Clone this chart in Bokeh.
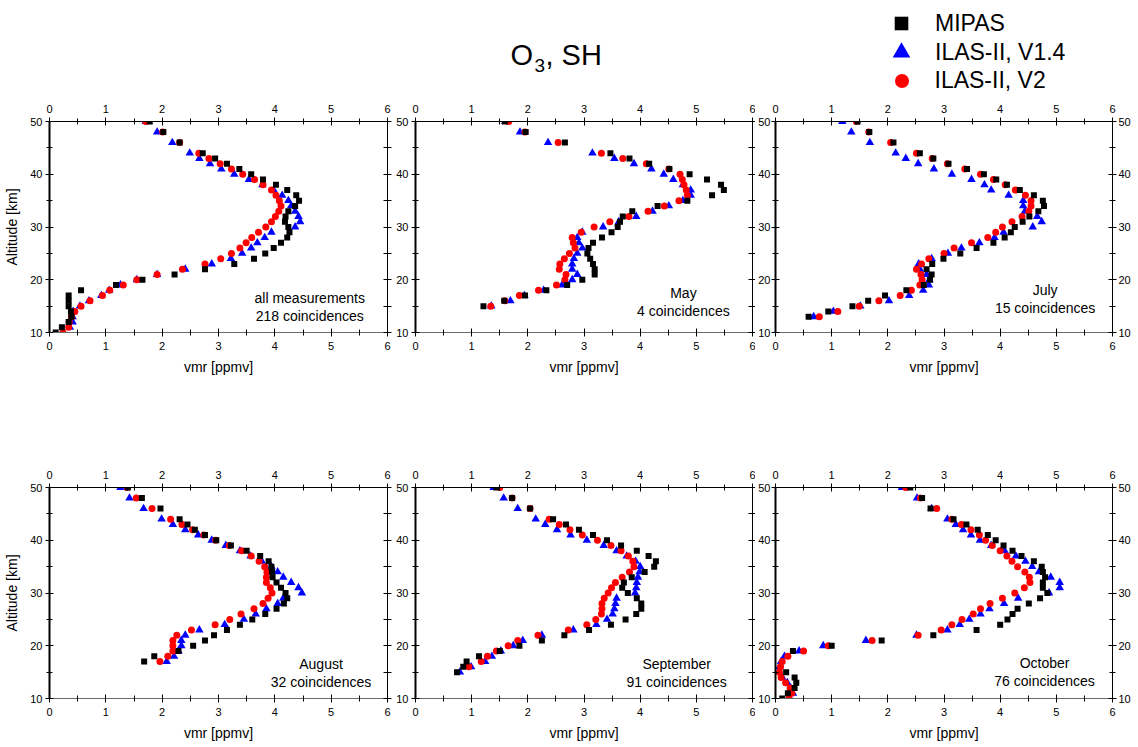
import numpy as np
from bokeh.plotting import figure
from bokeh.models import Range1d, LinearAxis, Label, Legend, LegendItem, FixedTicker
from bokeh.layouts import column, row
from bokeh.embed import file_html
from bokeh.resources import INLINE

FONT = "Liberation Sans"

SERIES = ["MIPAS", "ILAS-II, V1.4", "ILAS-II, V2"]
COLORS = ["black", "#0000FF", "#FF0000"]
MARKERS = ["square", "triangle", "circle"]

X_TICKS = [0, 1, 2, 3, 4, 5, 6]
X_MINOR = [0.5, 1.5, 2.5, 3.5, 4.5, 5.5]
Y_TICKS = [10, 20, 30, 40, 50]
Y_MINOR = [15, 25, 35, 45]

# ---------------- all measurements ----------------
alt_all = [50, 48, 46, 44, 43, 42, 41, 40, 39, 38, 37, 36, 35, 34, 33, 32, 31, 30, 29, 28,
           27, 26, 25, 24, 23, 22, 21, 20, 19, 18, 17, 16, 15, 14, 13, 12, 11, 10]
mipas_all = [1.78, 2.02, 2.31, 2.72, 2.94, 3.15, 3.37, 3.58, 3.79, 4.02, 4.22, 4.38, 4.43, 4.36,
             4.24, 4.19, 4.18, 4.24, 4.26, 4.22, 4.11, 3.98, 3.83, 3.63, 3.28, 2.76, 2.22, 1.65,
             1.18, 0.56, 0.34, 0.34, 0.34, 0.38, 0.39, 0.34, 0.22, 0.11]
ilas14_all = [1.71, 1.91, 2.18, 2.49, 2.66, 2.85, 3.05, 3.28, 3.54, 3.78, 3.98, 4.13, 4.24, 4.29,
              4.36, 4.42, 4.45, 4.36, 3.94, 3.82, 3.69, 3.58, 3.42, 3.22, 2.88, 2.41, 1.91, 1.55,
              1.26, 1.06, 0.92, 0.70, 0.54, 0.42, 0.41, 0.41, 0.36, 0.25]
ilas2_all = [1.71, 2.01, 2.31, 2.65, 2.83, 3.03, 3.23, 3.43, 3.64, 3.79, 3.94, 4.02, 4.08, 4.11,
             4.07, 4.01, 3.94, 3.84, 3.71, 3.59, 3.49, 3.38, 3.23, 3.04, 2.76, 2.36, 1.91, 1.55,
             1.31, 1.07, 0.94, 0.72, 0.56, 0.45, 0.39, 0.35, 0.34, 0.24]

# ---------------- May ----------------
alt_may = [50, 48, 46, 44, 43, 42, 41, 40, 39, 38, 37, 36, 35, 34, 33, 32, 31, 30, 29, 28,
           27, 26, 25, 24, 23, 22, 21, 20, 19, 18, 17, 16, 15]
mipas_may = [1.59, 1.96, 2.66, 3.47, 3.81, 4.16, 4.52, 4.88, 5.19, 5.44, 5.49, 5.28, 4.84, 4.31,
             3.86, 3.69, 3.64, 3.60, 3.49, 3.32, 3.16, 3.08, 3.06, 3.11, 3.16, 3.19, 3.19, 2.97,
             2.70, 2.33, 1.95, 1.58, 1.21]
ilas14_may = [1.60, 1.86, 2.36, 3.15, 3.54, 3.89, 4.20, 4.42, 4.59, 4.76, 4.90, 4.90, 4.76, 4.51,
              4.22, 3.93, 3.62, 3.34, 2.97, 2.88, 2.91, 2.97, 2.88, 2.82, 2.79, 2.79, 2.88, 2.79,
              2.61, 2.28, 1.94, 1.69, 1.35]
ilas2_may = [1.66, 1.95, 2.54, 3.31, 3.69, 4.11, 4.51, 4.71, 4.75, 4.78, 4.82, 4.84, 4.69, 4.43,
             4.14, 3.80, 3.46, 3.18, 2.95, 2.79, 2.81, 2.84, 2.74, 2.65, 2.57, 2.56, 2.68, 2.66,
             2.51, 2.19, 1.85, 1.59, 1.34]

# ---------------- July ----------------
alt_jul = [50, 48, 46, 44, 43, 42, 41, 40, 39, 38, 37, 36, 35, 34, 33, 32, 31, 30, 29, 28,
           27, 26, 25, 24, 23, 22, 21, 20, 19, 18, 17, 16, 15, 14, 13]
mipas_jul = [1.46, 1.67, 2.10, 2.57, 2.81, 3.08, 3.41, 3.71, 3.93, 4.12, 4.35, 4.60, 4.76, 4.78,
             4.68, 4.52, 4.40, 4.26, 4.19, 4.08, 3.88, 3.58, 3.29, 2.99, 2.79, 2.69, 2.78, 2.75,
             2.64, 2.33, 1.95, 1.65, 1.37, 0.94, 0.59]
ilas14_jul = [1.19, 1.35, 1.68, 2.14, 2.32, 2.54, 2.82, 3.14, 3.49, 3.72, 3.84, 4.15, 4.41, 4.41,
              4.44, 4.66, 4.74, 4.58, 4.06, 3.90, 3.63, 3.31, 3.07, 2.78, 2.55, 2.57, 2.69, 2.74,
              2.73, 2.63, 2.38, 2.02, 1.51, 1.03, 0.68]
ilas2_jul = [1.44, 1.66, 2.05, 2.51, 2.79, 3.06, 3.37, 3.65, 3.88, 4.09, 4.27, 4.45, 4.55, 4.55,
             4.51, 4.39, 4.21, 4.04, 3.92, 3.78, 3.49, 3.18, 3.00, 2.73, 2.60, 2.51, 2.59, 2.61,
             2.57, 2.42, 2.22, 1.84, 1.49, 1.11, 0.78]

# ---------------- August ----------------
alt_aug = [50, 48, 46, 44, 43, 42, 41, 40, 39, 38, 37, 36, 35, 34, 33, 32, 31, 30, 29, 28,
           27, 26, 25, 24, 23, 22, 21, 20, 19, 18, 17]
mipas_aug = [1.39, 1.64, 1.97, 2.31, 2.45, 2.58, 2.76, 2.96, 3.22, 3.50, 3.74, 3.89, 3.94, 3.95,
             3.96, 4.03, 4.11, 4.19, 4.22, 4.16, 4.03, 3.83, 3.60, 3.38, 3.15, 2.92, 2.76, 2.55,
             2.29, 1.86, 1.68]
ilas14_aug = [1.26, 1.42, 1.67, 1.99, 2.19, 2.41, 2.64, 2.88, 3.13, 3.38, 3.57, 3.77, 3.94, 4.05,
              4.15, 4.29, 4.42, 4.48, 4.15, 4.05, 3.85, 3.66, 3.45, 3.11, 2.66, 2.41, 2.34, 2.34,
              2.29, 2.21, 2.08]
ilas2_aug = [1.38, 1.54, 1.82, 2.15, 2.35, 2.54, 2.74, 2.95, 3.19, 3.41, 3.58, 3.72, 3.82, 3.86,
             3.85, 3.85, 3.92, 3.95, 3.88, 3.79, 3.63, 3.40, 3.20, 2.94, 2.52, 2.26, 2.19, 2.19,
             2.19, 2.10, 1.96]

# ---------------- September ----------------
alt_sep = [50, 48, 46, 44, 43, 42, 41, 40, 39, 38, 37, 36, 35, 34, 33, 32, 31, 30, 29, 28,
           27, 26, 25, 24, 23, 22, 21, 20, 19, 18, 17, 16, 15]
mipas_sep = [1.44, 1.72, 2.04, 2.45, 2.68, 2.91, 3.16, 3.41, 3.66, 3.94, 4.15, 4.28, 4.25, 4.08,
             3.85, 3.71, 3.68, 3.78, 3.94, 4.02, 4.02, 3.93, 3.74, 3.48, 3.09, 2.65, 2.25, 1.85,
             1.50, 1.13, 0.91, 0.85, 0.74]
ilas14_sep = [1.39, 1.57, 1.82, 2.14, 2.31, 2.52, 2.76, 3.05, 3.35, 3.58, 3.76, 3.92, 4.00, 3.99,
              3.96, 3.94, 3.93, 3.91, 3.58, 3.56, 3.54, 3.51, 3.41, 3.22, 2.81, 2.25, 1.91, 1.74,
              1.52, 1.36, 1.24, 0.99, 0.79]
ilas2_sep = [1.50, 1.72, 2.04, 2.38, 2.56, 2.75, 2.97, 3.24, 3.48, 3.66, 3.79, 3.87, 3.89, 3.81,
             3.68, 3.56, 3.49, 3.43, 3.36, 3.32, 3.32, 3.31, 3.21, 3.05, 2.72, 2.18, 1.82, 1.65,
             1.44, 1.28, 1.17, 0.95, None]

# ---------------- October ----------------
alt_oct = [50, 48, 46, 44, 43, 42, 41, 40, 39, 38, 37, 36, 35, 34, 33, 32, 31, 30, 29, 28,
           27, 26, 25, 24, 23, 22, 21, 20, 19, 18, 17, 16, 15, 14, 13, 12, 11, 10]
mipas_oct = [2.40, 2.61, 2.76, 3.17, 3.40, 3.60, 3.78, 3.92, 4.06, 4.22, 4.38, 4.60, 4.74, 4.76,
             4.80, 4.76, 4.76, 4.84, 4.71, 4.51, 4.31, 4.22, 4.13, 4.00, 3.58, 2.81, 1.89, 1.00,
             0.31, None, None, None, 0.19, 0.34, 0.37, 0.34, 0.22, 0.12]
ilas14_oct = [2.25, 2.52, 2.78, 3.06, 3.21, 3.34, 3.48, 3.64, 3.84, 4.08, 4.28, 4.45, 4.57, 4.69,
              4.90, 5.06, 5.06, 4.87, 4.32, 4.07, 3.81, 3.65, 3.45, 3.28, 3.06, 2.51, 1.61, 0.85,
              0.42, 0.16, 0.10, 0.07, 0.06, 0.12, 0.21, 0.27, 0.31, 0.26]
ilas2_oct = [2.32, 2.58, 2.87, 3.14, 3.31, 3.48, 3.63, 3.74, 3.86, 4.00, 4.12, 4.21, 4.31, 4.44,
             4.52, 4.53, 4.43, 4.26, 4.04, 3.82, 3.65, 3.52, 3.32, 3.14, 2.95, 2.54, 1.72, 0.94,
             0.50, 0.22, 0.12, 0.09, 0.07, 0.10, 0.18, 0.26, 0.29, 0.24]

notes = [("all measurements", "218 coincidences"), ("May", "4 coincidences"),
         ("July", "15 coincidences"), ("August", "32 coincidences"),
         ("September", "91 coincidences"), ("October", "76 coincidences")]
note_x = [4.62, 4.77, 4.80, 4.82, 4.65, 4.79]
note_y1 = [16.6, 17.4, 18.15, 16.45, 16.45, 16.8]
note_y2 = [13.2, 14.0, 14.7, 13.2, 13.2, 13.4]


def style_axis(ax, tick_out, standoff, lw=1, color="black"):
    ax.axis_line_color = color
    ax.axis_line_width = lw
    ax.major_tick_line_color = "black"
    ax.minor_tick_line_color = "black"
    ax.major_tick_in = 4
    ax.major_tick_out = tick_out
    ax.minor_tick_in = 3
    ax.minor_tick_out = min(3, tick_out)
    ax.major_label_standoff = standoff
    ax.major_label_text_font = FONT
    ax.major_label_text_font_size = "11px"
    ax.major_label_text_color = "black"
    ax.axis_label_text_font = FONT
    ax.axis_label_text_font_size = "14px"
    ax.axis_label_text_font_style = "normal"
    ax.axis_label_text_color = "black"


def make_panel(idx, alt, mip, v14, v2, col, rowi):
    lb, rb = [(49, 6), (20, 3), (18, 26)][col]
    tb, bb = [(27, 48), (107, 47)][rowi]
    frame_w = [338, 339, 339][col]
    p = figure(width=lb + frame_w + rb, height=tb + 211 + bb,
               x_range=Range1d(0, 6), y_range=Range1d(10, 50),
               output_backend="svg", toolbar_location=None,
               x_axis_location=None, y_axis_location=None,
               min_border_left=lb, min_border_right=rb,
               min_border_top=tb, min_border_bottom=bb,
               outline_line_color=None, background_fill_color="white",
               border_fill_color="white")
    p.grid.visible = False

    bottom = LinearAxis(ticker=FixedTicker(ticks=X_TICKS, minor_ticks=X_MINOR),
                        axis_label="vmr [ppmv]")
    style_axis(bottom, 4, 5, 1, "#6a6a6a")
    bottom.axis_label_standoff = 6
    p.add_layout(bottom, "below")

    top = LinearAxis(ticker=FixedTicker(ticks=X_TICKS, minor_ticks=X_MINOR))
    style_axis(top, 4, 5, 1, "black")
    p.add_layout(top, "above")

    left = LinearAxis(ticker=FixedTicker(ticks=Y_TICKS, minor_ticks=Y_MINOR),
                      axis_label="Altitude [km]" if col == 0 else None)
    style_axis(left, 4, [3, 3, 1][col], 2, "black")
    left.axis_label_standoff = 7
    p.add_layout(left, "left")

    if col == 2:
        right = LinearAxis(ticker=FixedTicker(ticks=Y_TICKS, minor_ticks=Y_MINOR))
        style_axis(right, 4, 2, 1, "black")
    else:
        # tick marks only: the neighbouring panel carries the altitude labels
        right = LinearAxis(ticker=FixedTicker(ticks=[], minor_ticks=Y_TICKS + Y_MINOR))
        style_axis(right, [4, 3][col], 0, 1, "black")
        right.minor_tick_in = 4
        right.minor_tick_out = [4, 3][col]
    p.add_layout(right, "right")

    alt_a = np.array(alt, dtype=float)
    # draw order: V1.4 (blue), V2 (red), MIPAS (black) on top
    for vals, k, sz in ((v14, 1, 8.5), (v2, 2, 7), (mip, 0, 6)):
        p.scatter(x=np.array(vals, dtype=float), y=alt_a, marker=MARKERS[k], size=sz,
                  fill_color=COLORS[k], line_color=None)

    t1, t2 = notes[idx]
    for txt, yy in ((t1, note_y1[idx]), (t2, note_y2[idx])):
        p.add_layout(Label(x=note_x[idx], y=yy, text=txt, text_align="center",
                           text_baseline="middle", text_font=FONT, text_font_size="14px",
                           text_color="black"))
    return p


panels_data = [
    (alt_all, mipas_all, ilas14_all, ilas2_all),
    (alt_may, mipas_may, ilas14_may, ilas2_may),
    (alt_jul, mipas_jul, ilas14_jul, ilas2_jul),
    (alt_aug, mipas_aug, ilas14_aug, ilas2_aug),
    (alt_sep, mipas_sep, ilas14_sep, ilas2_sep),
    (alt_oct, mipas_oct, ilas14_oct, ilas2_oct),
]

figs = []
for i, (a, m, b, r) in enumerate(panels_data):
    figs.append(make_panel(i, a, m, b, r, i % 3, i // 3))

# ---------------- header with title and legend ----------------
HDR_H = 94
hdr = figure(width=1138, height=HDR_H, x_range=Range1d(0, 1), y_range=Range1d(0, 1),
             output_backend="svg", toolbar_location=None,
             x_axis_location=None, y_axis_location=None,
             min_border_left=0, min_border_right=0, min_border_top=0, min_border_bottom=0,
             outline_line_color=None, background_fill_color="white", border_fill_color="white")
hdr.grid.visible = False

hdr.add_layout(Label(x=510, y=40, x_units="screen", y_units="screen", text="O",
                     text_font=FONT, text_font_size="29px", text_baseline="alphabetic",
                     text_color="black"))
hdr.add_layout(Label(x=534, y=29, x_units="screen", y_units="screen", text="3",
                     text_font=FONT, text_font_size="19px", text_baseline="alphabetic",
                     text_color="black"))
hdr.add_layout(Label(x=545, y=40, x_units="screen", y_units="screen", text=", SH",
                     text_font=FONT, text_font_size="29px", text_baseline="alphabetic",
                     text_color="black"))

# one legend per entry so each key marker can have its own size
leg_box = [34, 44, 35]          # glyph box -> marker size = 0.4 * box
leg_cy = [23, 52, 80.5]         # row centres (px from top)
for k in range(3):
    rr = hdr.scatter(x=[np.nan], y=[np.nan], marker=MARKERS[k], size=10,
                     fill_color=COLORS[k], line_color=None)
    bx = leg_box[k]
    lx = 901 - bx / 2
    ly = HDR_H - (leg_cy[k] + bx / 2)
    lg = Legend(items=[LegendItem(label=SERIES[k], renderers=[rr])],
                location=(lx, ly), orientation="vertical",
                glyph_width=bx, glyph_height=bx, label_height=bx, spacing=0,
                padding=0, margin=0, border_line_color=None, background_fill_alpha=0,
                label_text_font=FONT, label_text_font_size="23px",
                label_standoff=int(round(935 - (lx + bx))),
                label_text_color="black")
    hdr.add_layout(lg)

layout = column(hdr, row(figs[0], figs[1], figs[2]), row(figs[3], figs[4], figs[5]))

open("out.html", "w").write(file_html(layout, INLINE))
